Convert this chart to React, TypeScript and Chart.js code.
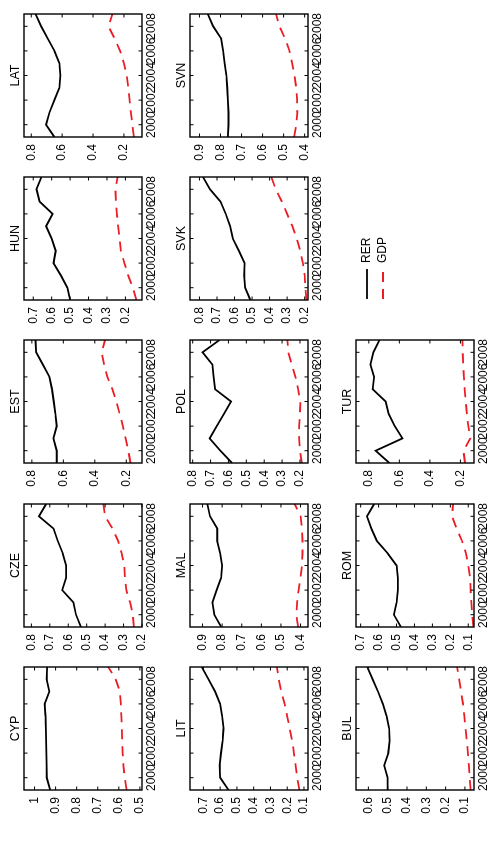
import React, { useEffect, useRef } from 'react';
import { Chart, registerables } from 'chart.js';

Chart.register(...registerables);

const FONT = "'Liberation Sans', Arial, Helvetica, sans-serif";
const RED = 'rgb(236, 28, 36)';

// Annual observations
const years = [1999, 2000, 2001, 2002, 2003, 2004, 2005, 2006, 2007, 2008, 2009];
const yearTicks = [2000, 2002, 2004, 2006, 2008];

const cypRER = [0.926, 0.942, 0.943, 0.944, 0.945, 0.946, 0.948, 0.952, 0.93, 0.943, 0.94];
const cypGDP = [0.563, 0.572, 0.578, 0.582, 0.584, 0.586, 0.588, 0.59, 0.595, 0.615, 0.65];
const cypTicks = [0.5, 0.6, 0.7, 0.8, 0.9, 1];

const czeRER = [0.531, 0.558, 0.572, 0.633, 0.612, 0.612, 0.63, 0.657, 0.68, 0.759, 0.72];
const czeGDP = [0.244, 0.25, 0.265, 0.285, 0.293, 0.296, 0.31, 0.33, 0.36, 0.4, 0.41];
const czeTicks = [0.2, 0.3, 0.4, 0.5, 0.6, 0.7, 0.8];

const estRER = [0.642, 0.642, 0.663, 0.642, 0.65, 0.661, 0.672, 0.688, 0.73, 0.773, 0.777];
const estGDP = [0.173, 0.187, 0.204, 0.221, 0.242, 0.263, 0.288, 0.32, 0.341, 0.356, 0.335];
const estTicks = [0.2, 0.4, 0.6, 0.8];

const hunRER = [0.5, 0.515, 0.55, 0.59, 0.578, 0.6, 0.63, 0.595, 0.665, 0.682, 0.655];
const hunGDP = [0.14, 0.16, 0.185, 0.205, 0.225, 0.232, 0.24, 0.246, 0.252, 0.254, 0.242];
const hunTicks = [0.2, 0.3, 0.4, 0.5, 0.6, 0.7];

const latRER = [0.65, 0.704, 0.682, 0.65, 0.618, 0.612, 0.618, 0.65, 0.693, 0.736, 0.772];
const latGDP = [0.135, 0.145, 0.155, 0.163, 0.172, 0.182, 0.2, 0.225, 0.26, 0.3, 0.275];
const latTicks = [0.2, 0.4, 0.6, 0.8];

const litRER = [0.55, 0.6, 0.603, 0.595, 0.585, 0.58, 0.588, 0.6, 0.63, 0.67, 0.71];
const litGDP = [0.127, 0.14, 0.15, 0.16, 0.17, 0.185, 0.2, 0.215, 0.235, 0.25, 0.262];
const litTicks = [0.1, 0.2, 0.3, 0.4, 0.5, 0.6, 0.7];

const malRER = [0.805, 0.84, 0.85, 0.828, 0.805, 0.8, 0.81, 0.825, 0.825, 0.862, 0.875];
const malGDP = [0.412, 0.422, 0.418, 0.41, 0.4, 0.393, 0.39, 0.39, 0.393, 0.4, 0.43];
const malTicks = [0.4, 0.5, 0.6, 0.7, 0.8, 0.9];

const polRER = [0.58, 0.645, 0.705, 0.665, 0.625, 0.585, 0.675, 0.683, 0.69, 0.745, 0.65];
const polGDP = [0.19, 0.2, 0.205, 0.205, 0.2, 0.198, 0.21, 0.225, 0.245, 0.265, 0.27];
const polTicks = [0.2, 0.3, 0.4, 0.5, 0.6, 0.7, 0.8];

const svkRER = [0.51, 0.54, 0.545, 0.543, 0.575, 0.61, 0.625, 0.65, 0.68, 0.74, 0.78];
const svkGDP = [0.19, 0.195, 0.2, 0.21, 0.225, 0.245, 0.27, 0.3, 0.33, 0.365, 0.39];
const svkTicks = [0.2, 0.3, 0.4, 0.5, 0.6, 0.7, 0.8];

const svnRER = [0.765, 0.762, 0.762, 0.765, 0.768, 0.772, 0.78, 0.787, 0.797, 0.835, 0.86];
const svnGDP = [0.45, 0.44, 0.435, 0.436, 0.44, 0.448, 0.46, 0.472, 0.493, 0.52, 0.536];
const svnTicks = [0.4, 0.5, 0.6, 0.7, 0.8, 0.9];

const bulRER = [0.5, 0.5, 0.518, 0.497, 0.49, 0.492, 0.505, 0.525, 0.55, 0.578, 0.605];
const bulGDP = [0.07, 0.075, 0.08, 0.085, 0.09, 0.097, 0.103, 0.11, 0.12, 0.13, 0.14];
const bulTicks = [0.1, 0.2, 0.3, 0.4, 0.5, 0.6];

const romRER = [0.475, 0.515, 0.5, 0.492, 0.492, 0.5, 0.55, 0.61, 0.64, 0.665, 0.625];
const romGDP = [0.072, 0.078, 0.083, 0.087, 0.09, 0.1, 0.113, 0.135, 0.165, 0.19, 0.185];
const romTicks = [0.1, 0.2, 0.3, 0.4, 0.5, 0.6, 0.7];

const turRER = [0.665, 0.755, 0.58, 0.63, 0.67, 0.69, 0.775, 0.765, 0.79, 0.77, 0.73];
const turGDP = [0.17, 0.18, 0.135, 0.148, 0.158, 0.165, 0.172, 0.177, 0.182, 0.185, 0.187];
const turTicks = [0.2, 0.4, 0.6, 0.8];

type PanelSpec = {
  title: string;
  row: number;
  col: number;
  rer: number[];
  gdp: number[];
  yMin: number;
  yMax: number;
  yTicks: number[];
};

const panels: PanelSpec[] = [
  { title: 'CYP', row: 0, col: 0, rer: cypRER, gdp: cypGDP, yMin: 0.49, yMax: 1.05, yTicks: cypTicks },
  { title: 'CZE', row: 0, col: 1, rer: czeRER, gdp: czeGDP, yMin: 0.2, yMax: 0.84, yTicks: czeTicks },
  { title: 'EST', row: 0, col: 2, rer: estRER, gdp: estGDP, yMin: 0.1, yMax: 0.85, yTicks: estTicks },
  { title: 'HUN', row: 0, col: 3, rer: hunRER, gdp: hunGDP, yMin: 0.11, yMax: 0.75, yTicks: hunTicks },
  { title: 'LAT', row: 0, col: 4, rer: latRER, gdp: latGDP, yMin: 0.083, yMax: 0.847, yTicks: latTicks },
  { title: 'LIT', row: 1, col: 0, rer: litRER, gdp: litGDP, yMin: 0.076, yMax: 0.78, yTicks: litTicks },
  { title: 'MAL', row: 1, col: 1, rer: malRER, gdp: malGDP, yMin: 0.362, yMax: 0.964, yTicks: malTicks },
  { title: 'POL', row: 1, col: 2, rer: polRER, gdp: polGDP, yMin: 0.155, yMax: 0.815, yTicks: polTicks },
  { title: 'SVK', row: 1, col: 3, rer: svkRER, gdp: svkGDP, yMin: 0.181, yMax: 0.854, yTicks: svkTicks },
  { title: 'SVN', row: 1, col: 4, rer: svnRER, gdp: svnGDP, yMin: 0.384, yMax: 0.945, yTicks: svnTicks },
  { title: 'BUL', row: 2, col: 0, rer: bulRER, gdp: bulGDP, yMin: 0.053, yMax: 0.664, yTicks: bulTicks },
  { title: 'ROM', row: 2, col: 1, rer: romRER, gdp: romGDP, yMin: 0.068, yMax: 0.726, yTicks: romTicks },
  { title: 'TUR', row: 2, col: 2, rer: turRER, gdp: turGDP, yMin: 0.111, yMax: 0.884, yTicks: turTicks },
];

// Landscape figure geometry; the whole figure is turned a quarter turn on the page.
const FIG_W = 842;
const FIG_H = 492;
const COL_LEFT = [52, 215, 379, 542, 705];
const ROW_TOP = [24, 190, 356];
const BOX_W = 123;
const BOX_H = 118;
const PAD_L = 50;
const PAD_T = 22;
const PAD_R = 8;
const PAD_B = 26;
const X_AXIS_H = 22;
const Y_AXIS_W = 45;
const TICK_FONT = { family: FONT, size: 12 };

const fmt = (v: number) => String(Number(v.toFixed(2)));

// Boxed axes with inward tick marks on all four sides
const framePlugin = {
  id: 'frame',
  afterDatasetsDraw(chart: any) {
    const { ctx, chartArea: a, scales } = chart;
    const t = 3.5;
    ctx.save();
    ctx.strokeStyle = '#000';
    ctx.lineWidth = 1.4;
    ctx.setLineDash([]);
    ctx.strokeRect(a.left, a.top, a.right - a.left, a.bottom - a.top);
    ctx.lineWidth = 1;
    ctx.beginPath();
    scales.x.ticks.forEach((tk: any) => {
      const px = scales.x.getPixelForValue(tk.value);
      ctx.moveTo(px, a.bottom);
      ctx.lineTo(px, a.bottom - t);
      ctx.moveTo(px, a.top);
      ctx.lineTo(px, a.top + t);
    });
    scales.y.ticks.forEach((tk: any) => {
      const py = scales.y.getPixelForValue(tk.value);
      ctx.moveTo(a.left, py);
      ctx.lineTo(a.left + t, py);
      ctx.moveTo(a.right, py);
      ctx.lineTo(a.right - t, py);
    });
    ctx.stroke();
    ctx.restore();
  },
};

function Panel({ spec }: { spec: PanelSpec }) {
  const ref = useRef<HTMLCanvasElement>(null);
  const width = BOX_W + PAD_L + PAD_R;
  const height = BOX_H + PAD_T + PAD_B;
  const left = COL_LEFT[spec.col] - PAD_L;
  const top = ROW_TOP[spec.row] - PAD_T;

  useEffect(() => {
    if (!ref.current) return;
    const chart = new Chart(ref.current, {
      type: 'line',
      data: {
        datasets: [
          {
            label: 'RER',
            data: years.map((x, i) => ({ x, y: spec.rer[i] })),
            borderColor: '#000',
            borderWidth: 1.8,
            pointRadius: 0,
            tension: 0,
          },
          {
            label: 'GDP',
            data: years.map((x, i) => ({ x, y: spec.gdp[i] })),
            borderColor: RED,
            borderWidth: 1.8,
            borderDash: [10, 7],
            pointRadius: 0,
            tension: 0,
          },
        ],
      },
      options: {
        animation: false,
        responsive: false,
        events: [],
        layout: { padding: { left: PAD_L - Y_AXIS_W, right: PAD_R, top: 0, bottom: PAD_B - X_AXIS_H } },
        plugins: {
          legend: { display: false },
          tooltip: { enabled: false },
          title: {
            display: true,
            fullSize: false,
            text: spec.title,
            color: '#000',
            font: { family: FONT, size: 12.5, weight: 'normal', lineHeight: 1.2 },
            padding: { top: 6, bottom: 1 },
          },
        },
        scales: {
          x: {
            type: 'linear',
            min: 1999,
            max: 2009,
            grid: { display: false, drawTicks: false },
            border: { display: false },
            afterBuildTicks: (ax: any) => {
              ax.ticks = yearTicks.map((v) => ({ value: v }));
            },
            afterFit: (ax: any) => {
              ax.height = X_AXIS_H;
            },
            ticks: {
              autoSkip: false,
              maxRotation: 0,
              minRotation: 0,
              padding: 2,
              color: '#000',
              font: TICK_FONT,
              callback: (v: any) => String(v),
            },
          },
          y: {
            type: 'linear',
            min: spec.yMin,
            max: spec.yMax,
            grid: { display: false, drawTicks: false },
            border: { display: false },
            afterBuildTicks: (ax: any) => {
              ax.ticks = spec.yTicks.map((v) => ({ value: v }));
            },
            afterFit: (ax: any) => {
              ax.width = Y_AXIS_W;
            },
            ticks: {
              padding: 7,
              color: '#000',
              font: TICK_FONT,
              callback: (v: any) => fmt(Number(v)),
            },
          },
        },
      } as any,
      plugins: [framePlugin],
    });
    return () => chart.destroy();
  }, [spec]);

  return (
    <canvas
      ref={ref}
      width={width}
      height={height}
      style={{ position: 'absolute', left, top, width, height }}
    />
  );
}

function SeriesLegend() {
  const ref = useRef<HTMLCanvasElement>(null);
  const left = 539;
  const top = 357;
  const width = 220;
  const height = 50;

  useEffect(() => {
    if (!ref.current) return;
    const chart = new Chart(ref.current, {
      type: 'line',
      data: {
        datasets: [
          { label: 'RER', data: [], borderColor: '#000', borderWidth: 1.8 },
          { label: 'GDP', data: [], borderColor: RED, borderWidth: 1.8, borderDash: [10, 7] },
        ],
      },
      options: {
        animation: false,
        responsive: false,
        events: [],
        layout: { padding: 0 },
        scales: { x: { display: false }, y: { display: false } },
        plugins: {
          tooltip: { enabled: false },
          legend: {
            display: true,
            position: 'left',
            align: 'start',
            labels: {
              usePointStyle: true,
              pointStyle: 'line',
              pointStyleWidth: 30,
              boxWidth: 30,
              padding: 4,
              color: '#000',
              font: { family: FONT, size: 12 },
              generateLabels: (c: any) =>
                c.data.datasets.map((ds: any, i: number) => ({
                  text: ds.label,
                  datasetIndex: i,
                  strokeStyle: ds.borderColor,
                  fillStyle: ds.borderColor,
                  lineWidth: ds.borderWidth,
                  lineDash: ds.borderDash ?? [],
                  pointStyle: 'line',
                  hidden: false,
                  fontColor: '#000',
                })),
            },
          },
        },
      } as any,
    });
    return () => chart.destroy();
  }, []);

  return (
    <canvas
      ref={ref}
      width={width}
      height={height}
      style={{ position: 'absolute', left, top, width, height }}
    />
  );
}

export default function App() {
  return (
    <div
      style={{
        position: 'fixed',
        left: 0,
        top: 0,
        width: FIG_H,
        height: FIG_W,
        background: '#fff',
        overflow: 'hidden',
      }}
    >
      <div
        style={{
          position: 'absolute',
          left: 0,
          top: FIG_W,
          width: FIG_W,
          height: FIG_H,
          transform: 'rotate(-90deg)',
          transformOrigin: '0 0',
        }}
      >
        {panels.map((p) => (
          <Panel key={p.title} spec={p} />
        ))}
        <SeriesLegend />
      </div>
    </div>
  );
}
